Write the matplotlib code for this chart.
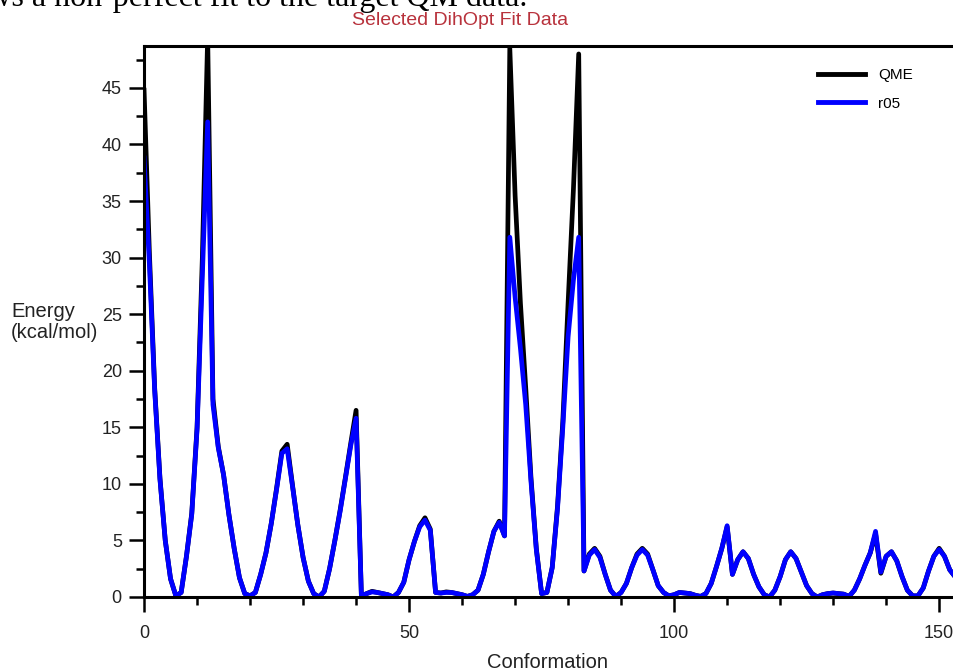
import numpy as np
import matplotlib
matplotlib.use("Agg")
import matplotlib.pyplot as plt
from matplotlib.ticker import MultipleLocator

# energies per conformation
qme = [44.8, 30.5, 18.5, 10.5, 5.0, 1.6, 0.1, 0.4, 3.6, 7.4,
       15.0, 30.0, 49.5, 17.5, 13.3, 10.8, 7.3, 4.3, 1.7, 0.3,
       0.1, 0.4, 2.0, 3.9, 6.5, 9.6, 12.9, 13.5, 9.9, 6.4,
       3.5, 1.4, 0.3, 0.0, 0.5, 2.5, 5.0, 7.7, 10.6, 13.6,
       16.5, 0.1, 0.3, 0.5, 0.4, 0.3, 0.2, 0.0, 0.4, 1.3,
       3.3, 4.9, 6.3, 7.0, 6.0, 0.4, 0.35, 0.45, 0.4, 0.3,
       0.2, 0.05, 0.2, 0.6, 2.0, 4.0, 5.8, 6.7, 5.4, 48.5,
       35.5, 26.0, 18.5, 10.5, 4.3, 0.3, 0.4, 2.6, 8.0, 15.5,
       26.0, 36.0, 48.0, 2.3, 3.8, 4.3, 3.6, 2.0, 0.6, 0.05,
       0.4, 1.2, 2.6, 3.8, 4.3, 3.8, 2.4, 1.0, 0.4, 0.1,
       0.2, 0.4, 0.35, 0.3, 0.15, 0.05, 0.3, 1.2, 2.7, 4.3,
       6.2, 2.0, 3.3, 4.0, 3.4, 2.0, 0.9, 0.2, 0.0, 0.6,
       1.8, 3.3, 4.0, 3.4, 2.2, 1.0, 0.3, 0.0, 0.2, 0.3,
       0.35, 0.3, 0.25, 0.05, 0.6, 1.6, 2.8, 3.9, 5.6, 2.1,
       3.6, 4.0, 3.2, 1.8, 0.6, 0.1, 0.1, 0.8, 2.3, 3.6,
       4.3, 3.6, 2.4, 1.8]

r05 = [38.8, 29.5, 18.3, 10.4, 5.0, 1.6, 0.1, 0.4, 3.6, 7.3,
       14.8, 28.5, 42.0, 17.0, 13.2, 10.8, 7.3, 4.3, 1.7, 0.3,
       0.1, 0.4, 2.0, 3.9, 6.5, 9.5, 12.7, 13.1, 9.8, 6.4,
       3.5, 1.4, 0.3, 0.0, 0.5, 2.5, 5.0, 7.6, 10.5, 13.4,
       15.8, 0.1, 0.3, 0.45, 0.4, 0.3, 0.2, 0.0, 0.4, 1.3,
       3.3, 4.9, 6.2, 6.8, 5.9, 0.4, 0.35, 0.4, 0.4, 0.3,
       0.2, 0.05, 0.2, 0.6, 2.0, 4.0, 5.8, 6.6, 5.4, 31.8,
       26.5, 22.0, 17.0, 10.2, 4.2, 0.3, 0.4, 2.6, 7.8, 15.0,
       23.0, 28.0, 31.8, 2.3, 3.7, 4.2, 3.5, 2.0, 0.6, 0.05,
       0.4, 1.2, 2.6, 3.7, 4.2, 3.7, 2.4, 1.0, 0.4, 0.1,
       0.2, 0.4, 0.35, 0.3, 0.15, 0.05, 0.3, 1.2, 2.7, 4.3,
       6.3, 2.0, 3.3, 4.0, 3.4, 2.0, 0.9, 0.2, 0.0, 0.6,
       1.8, 3.3, 4.0, 3.4, 2.2, 1.0, 0.3, 0.0, 0.2, 0.3,
       0.35, 0.3, 0.25, 0.05, 0.6, 1.6, 2.8, 3.9, 5.8, 2.2,
       3.6, 4.0, 3.2, 1.8, 0.6, 0.1, 0.1, 0.8, 2.3, 3.6,
       4.2, 3.6, 2.4, 1.8]

conf = np.arange(len(qme))

plt.rcParams['font.family'] = ['Liberation Sans', 'DejaVu Sans']

fig = plt.figure(figsize=(9.54, 6.71), dpi=100)
ax = fig.add_axes([0.151, 0.1103, 0.849, 0.8211])

ax.plot(conf, qme, color='black', lw=3.4, label='QME')
ax.plot(conf, r05, color='#0000ff', lw=3.4, label='r05')

ax.set_xlim(0, 152.8)
ax.set_ylim(0, 48.7)

ax.xaxis.set_major_locator(MultipleLocator(50))
ax.xaxis.set_minor_locator(MultipleLocator(10))
ax.yaxis.set_major_locator(MultipleLocator(5))
ax.yaxis.set_minor_locator(MultipleLocator(2.5))

ax.spines['right'].set_visible(False)
for s in ['left', 'top', 'bottom']:
    ax.spines[s].set_linewidth(2.2)

ax.tick_params(axis='both', which='major', length=11, width=1.8,
               labelsize=13, labelcolor='#222222', direction='out')
ax.tick_params(axis='both', which='minor', length=6, width=1.8, direction='out')
ax.tick_params(axis='x', which='major', pad=9)
ax.tick_params(axis='y', which='major', pad=5)

leg = ax.legend(loc='upper left', bbox_to_anchor=(818 / 954, 1 - 68 / 671),
                bbox_transform=fig.transFigure, frameon=False, fontsize=11,
                handlelength=3.1, handletextpad=0.85, labelspacing=0.95,
                borderpad=0, borderaxespad=0)
for h in leg.get_lines():
    h.set_linewidth(3.5)

fig.text(0.482, 0.970, 'Selected DihOpt Fit Data', ha='center', va='center',
         fontsize=14, color='#b8323c')
fig.text(11 / 954, 0.520, 'Energy\n(kcal/mol)', ha='left', va='center',
         fontsize=14.5, color='#222222', linespacing=1.15)
fig.text(548 / 954, 1 - 663 / 671, 'Conformation', ha='center', va='center',
         fontsize=14.5, color='#222222')

# caption text of the surrounding document, cut off at the top edge
fig.text(527 / 954, 1 - 6 / 671, 'shows a non-perfect fit to the target QM data.',
         ha='right', va='baseline', fontsize=23, family='Liberation Serif',
         color='black')

fig.savefig('out.png', dpi=100)
